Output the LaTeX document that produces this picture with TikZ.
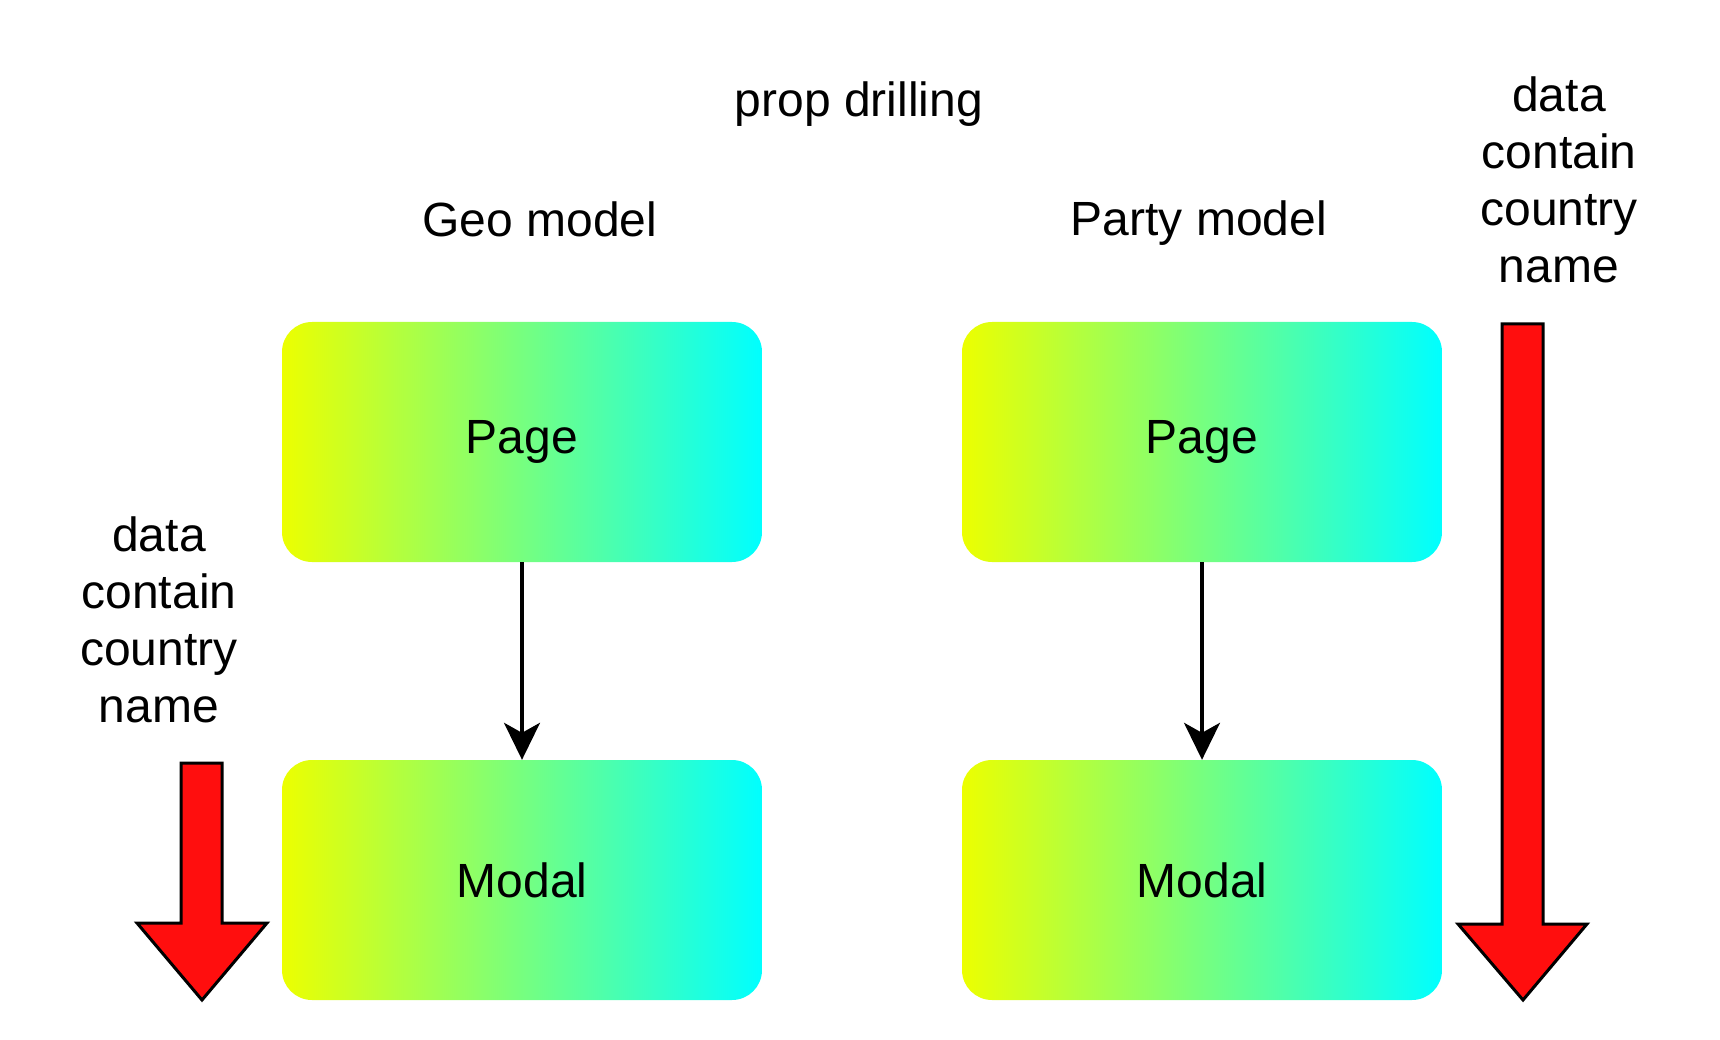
\documentclass[tikz,border=0pt]{standalone}
\usepackage{fontspec}
\setmainfont{Liberation Sans}
\usepackage{tikz}
\usetikzlibrary{arrows.meta,positioning,calc}
\usepackage{xcolor}
\definecolor{gradyellow}{RGB}{236,255,0}
\definecolor{gradcyan}{RGB}{0,255,255}
\definecolor{arrowred}{RGB}{255,14,14}

\begin{document}
\begin{tikzpicture}[
    x=1pt, y=-1pt,
    compbox/.style={rectangle, rounded corners=30pt, minimum width=480pt, minimum height=240pt,
        left color=gradyellow, right color=gradcyan, draw=none,
        font=\fontsize{48}{57}\selectfont},
    caption/.style={font=\fontsize{48}{57}\selectfont},
    datanote/.style={caption, align=center},
    fatarrow/.style={fill=arrowred, draw=black, line width=3pt, line join=miter},
    >={Stealth[length=37pt, width=36pt, inset=10pt]},
]
    \useasboundingbox (0,0) rectangle (1720,1040);

    % Titles
    \node[caption] (title) at (859, 104) {prop drilling};
    \node[caption] (geo) at (540, 219) {Geo model};
    \node[caption] (party) at (1199, 223) {Party model};

    % Geo model: Page -> Modal
    \node[compbox] (geo-page) at (522, 442) {Page};
    \node[compbox] (geo-modal) at (522, 880) {Modal};
    \draw[->, line width=3.2pt] (geo-page) -- (geo-modal);

    % Party model: Page -> Modal
    \node[compbox] (party-page) at (1202, 442) {Page};
    \node[compbox] (party-modal) at (1202, 880) {Modal};
    \draw[->, line width=3.2pt] (party-page) -- (party-modal);

    % Notes on where the data lives
    \node[datanote] (geo-note) at (159, 620) {data\\contain\\country\\name};
    \node[datanote] (party-note) at (1559, 180) {data\\contain\\country\\name};

    % Big red arrows (data flow)
    \draw[fatarrow] (181,763) -- (222,763) -- (222,923) -- (267,923) -- (202,1000)
        -- (137,923) -- (181,923) -- cycle;
    \draw[fatarrow] (1502,324) -- (1543,324) -- (1543,924) -- (1587,924) -- (1523,1000)
        -- (1458,924) -- (1502,924) -- cycle;
\end{tikzpicture}
\end{document}
